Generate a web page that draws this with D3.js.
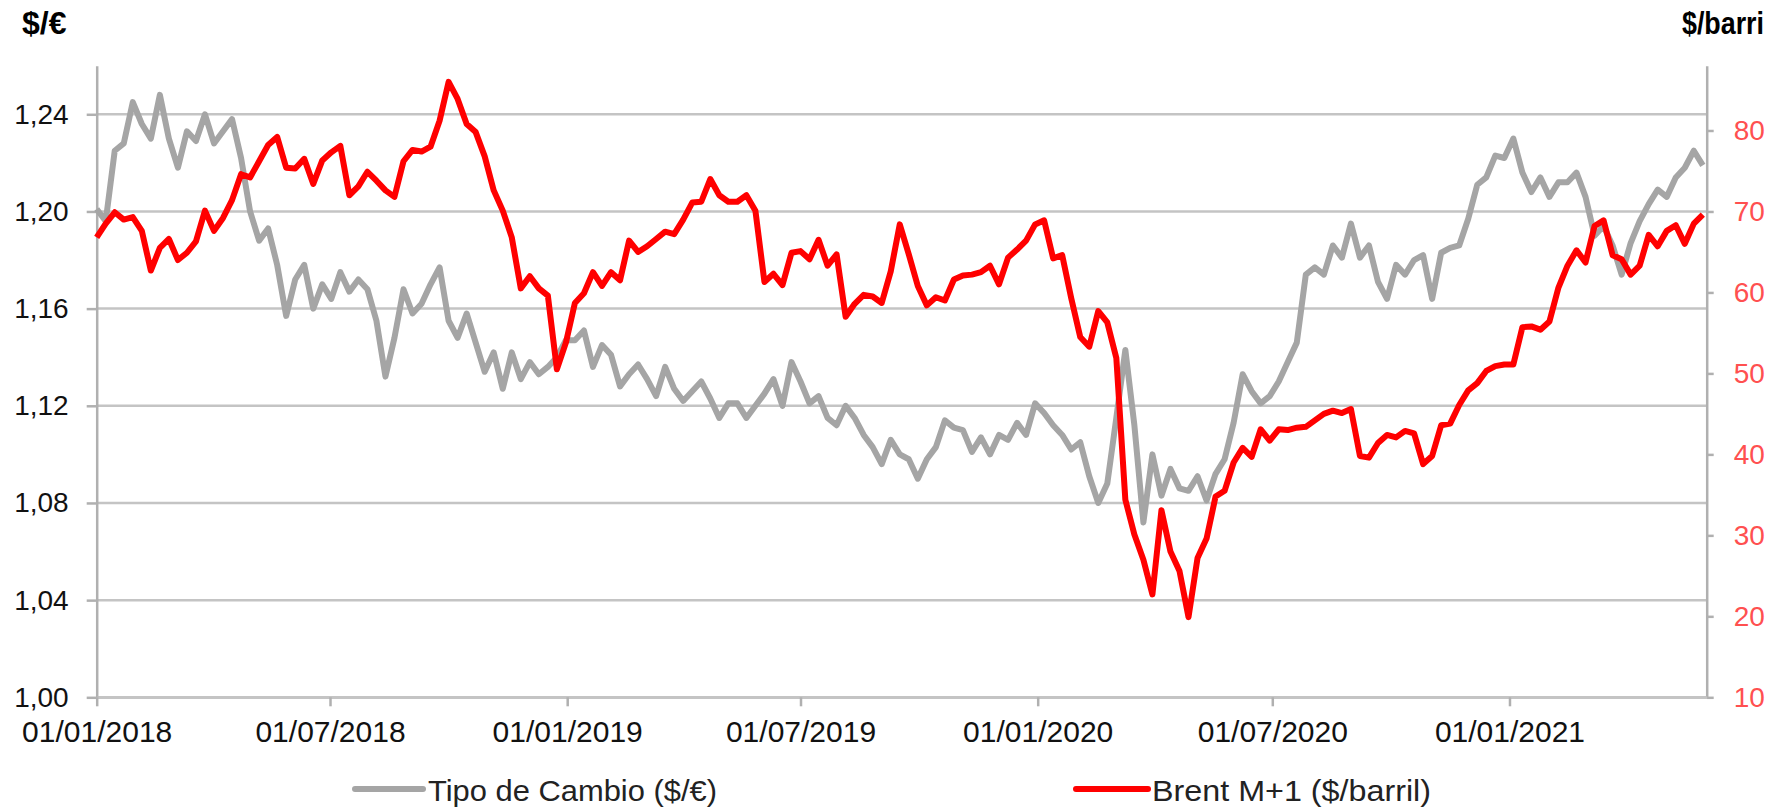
<!DOCTYPE html>
<html>
<head>
<meta charset="utf-8">
<script src="https://cdn.jsdelivr.net/npm/d3@7"></script>
<style>
  body { margin: 0; background: #fff; }
  text { font-family: "Liberation Sans", Arial, sans-serif; }
</style>
</head>
<body>
<div id="chart"></div>
<script>
// Weekly values (Mondays)
const eur2018 = [1.201, 1.196, 1.225, 1.228, 1.245, 1.236, 1.230, 1.248, 1.230, 1.218,
  1.233, 1.229, 1.240, 1.228, 1.233, 1.238, 1.222, 1.200, 1.188, 1.193,
  1.178, 1.157, 1.172, 1.178, 1.160, 1.170, 1.164, 1.175, 1.167, 1.172,
  1.168, 1.155, 1.132, 1.148, 1.168, 1.158, 1.162, 1.170, 1.177, 1.155,
  1.148, 1.158, 1.146, 1.134, 1.142, 1.127, 1.142, 1.131, 1.138, 1.133,
  1.136, 1.140, 1.147];
const eur2019 = [1.147, 1.151, 1.136, 1.145, 1.141, 1.128, 1.133, 1.137,
  1.131, 1.124, 1.136, 1.127, 1.122, 1.126, 1.130, 1.123, 1.115,
  1.121, 1.121, 1.115, 1.120, 1.125, 1.131, 1.120, 1.138,
  1.130, 1.121, 1.124, 1.115, 1.112, 1.120, 1.115, 1.108, 1.103,
  1.096, 1.106, 1.100, 1.098, 1.090, 1.098, 1.103, 1.114, 1.111,
  1.110, 1.101, 1.107, 1.100, 1.108, 1.106, 1.113, 1.108, 1.121];
const eur2020 = [1.117, 1.112, 1.108, 1.102, 1.105, 1.091, 1.080, 1.088,
  1.115, 1.143, 1.112, 1.072, 1.100, 1.083, 1.094, 1.086, 1.085,
  1.091, 1.081, 1.092, 1.098, 1.113, 1.133, 1.126, 1.121, 1.124,
  1.130, 1.138, 1.146, 1.174, 1.177, 1.174, 1.186, 1.181, 1.195,
  1.181, 1.186, 1.171, 1.164, 1.178, 1.174, 1.180, 1.182,
  1.164, 1.183, 1.185, 1.186, 1.197, 1.211, 1.214, 1.223, 1.222];
const eur2021 = [1.230, 1.216, 1.208, 1.214, 1.206, 1.212, 1.212, 1.216,
  1.206, 1.190, 1.194, 1.186, 1.174, 1.187, 1.196, 1.203, 1.209,
  1.206, 1.214, 1.218, 1.225, 1.219];

const brent2018 = [66.8, 68.5, 69.9, 69.0, 69.3, 67.6, 62.7, 65.5, 66.6,
  64.0, 64.9, 66.3, 70.1, 67.6, 69.2, 71.4, 74.6, 74.2,
  76.2, 78.2, 79.2, 75.4, 75.3, 76.5, 73.4, 76.3,
  77.3, 78.1, 72.0, 73.1, 74.9, 73.8, 72.6, 71.8, 76.2,
  77.6, 77.4, 78.0, 81.2, 86.0, 83.9, 80.8, 79.8, 76.8,
  72.6, 70.1, 66.8, 60.5, 62.0, 60.5, 59.6, 50.5, 53.8];
const brent2019 = [58.7, 59.9, 62.5, 60.8, 62.5, 61.5, 66.4, 65.0,
  65.7, 66.6, 67.5, 67.2, 69.0, 71.1, 71.2, 74.0, 72.0,
  71.2, 71.2, 72.0, 70.1, 61.3, 62.3, 60.9, 64.9,
  65.1, 64.1, 66.5, 63.3, 64.7, 57.0, 58.6, 59.7, 59.5,
  58.7, 62.6, 68.4, 64.7, 60.8, 58.4, 59.4, 59.0, 61.6,
  62.1, 62.2, 62.5, 63.3, 61.0, 64.3, 65.3, 66.4, 68.4];
const brent2020 = [68.9, 64.2, 64.6, 59.3, 54.5, 53.3, 57.7, 56.3,
  51.9, 34.4, 30.1, 27.0, 22.7, 33.1, 28.0, 25.6, 19.9,
  27.2, 29.6, 34.8, 35.5, 39.0, 40.8, 39.7, 43.1, 41.7,
  43.1, 43.0, 43.3, 43.4, 44.2, 45.0, 45.4, 45.1, 45.6,
  39.8, 39.6, 41.4, 42.4, 42.1, 42.9, 42.6, 38.8,
  39.8, 43.6, 43.8, 46.1, 47.9, 48.8, 50.3, 50.9, 51.1];
const brent2021 = [51.1, 55.7, 55.8, 55.4, 56.4, 60.6, 63.3, 65.2,
  63.7, 68.2, 68.9, 64.6, 64.1, 62.2, 63.3, 67.1, 65.7,
  67.6, 68.3, 66.0, 68.5, 69.6];

const leftTicks = [1.00, 1.04, 1.08, 1.12, 1.16, 1.20, 1.24];
const rightTicks = [10, 20, 30, 40, 50, 60, 70, 80];
const dateTicks = ["2018-01-01", "2018-07-01", "2019-01-01", "2019-07-01",
  "2020-01-01", "2020-07-01", "2021-01-01"];
const seriesNames = ["Tipo de Cambio ($/€)", "Brent M+1 ($/barril)"];

const width = 1785;
const height = 807;
const margin = { top: 65.7, right: 78.3, bottom: 109.7, left: 96.7 };
const axisColor = "#b0b0b0";
const gridColor = "#c4c4c4";
const greyLine = "#a5a5a5";
const redLine = "#ff0000";

const weeks = d3.timeMonday.range(new Date(2018, 0, 1), new Date(2021, 5, 1));
const eurUsd = eur2018.concat(eur2019, eur2020, eur2021);
const brent = brent2018.concat(brent2019, brent2020, brent2021);
const parseDate = d3.timeParse("%Y-%m-%d");

const svg = d3.select("#chart")
    .append("svg")
    .attr("width", width)
    .attr("height", height);

const x = d3.scaleTime()
    .domain([new Date(2018, 0, 1), new Date(2021, 5, 3)])
    .range([margin.left, width - margin.right]);

const yLeft = d3.scaleLinear()
    .domain([1.00, 1.26])
    .range([height - margin.bottom, margin.top]);

const yRight = d3.scaleLinear()
    .domain([10, 88])
    .range([height - margin.bottom, margin.top]);

// Gridlines
svg.append("g")
    .selectAll("line")
    .data(leftTicks)
    .enter()
    .append("line")
    .attr("x1", margin.left)
    .attr("x2", width - margin.right)
    .attr("y1", d => yLeft(d))
    .attr("y2", d => yLeft(d))
    .attr("stroke", gridColor)
    .attr("stroke-width", 2.5);

// Axes
const commaFmt = d => d3.format(".2f")(d).replace(".", ",");

const leftAxis = svg.append("g")
    .attr("transform", `translate(${margin.left},0)`)
    .call(d3.axisLeft(yLeft).tickValues(leftTicks).tickFormat(commaFmt)
        .tickSize(10).tickSizeOuter(0).tickPadding(18));

const rightAxis = svg.append("g")
    .attr("transform", `translate(${width - margin.right},0)`)
    .call(d3.axisRight(yRight).tickValues(rightTicks)
        .tickSize(7).tickSizeOuter(0).tickPadding(20));

const bottomAxis = svg.append("g")
    .attr("transform", `translate(0,${height - margin.bottom})`)
    .call(d3.axisBottom(x).tickValues(dateTicks.map(parseDate))
        .tickFormat(d3.timeFormat("%d/%m/%Y"))
        .tickSize(9).tickSizeOuter(0).tickPadding(14));

[leftAxis, rightAxis, bottomAxis].forEach(g => {
    g.select(".domain").attr("stroke", axisColor).attr("stroke-width", 2.5);
    g.selectAll(".tick line").attr("stroke", axisColor).attr("stroke-width", 2.5);
    g.selectAll("text").attr("font-family", "Liberation Sans, Arial, sans-serif");
});
bottomAxis.select(".domain").attr("stroke", gridColor);

leftAxis.selectAll("text").attr("font-size", 28).attr("fill", "#111");
rightAxis.selectAll("text").attr("font-size", 28).attr("fill", "#ff5050");
bottomAxis.selectAll("text").attr("font-size", 30).attr("fill", "#111");

// Lines
const eurLine = d3.line()
    .x((d, i) => x(weeks[i]))
    .y(d => yLeft(d));

const brentLine = d3.line()
    .x((d, i) => x(weeks[i]))
    .y(d => yRight(d));

svg.append("path")
    .datum(eurUsd)
    .attr("fill", "none")
    .attr("stroke", greyLine)
    .attr("stroke-width", 6)
    .attr("stroke-linejoin", "round")
    .attr("d", eurLine);

svg.append("path")
    .datum(brent)
    .attr("fill", "none")
    .attr("stroke", redLine)
    .attr("stroke-width", 6)
    .attr("stroke-linejoin", "round")
    .attr("d", brentLine);

// Axis titles
svg.append("text")
    .attr("x", 22)
    .attr("y", 34)
    .attr("font-size", 32)
    .attr("font-weight", "bold")
    .text("$/€");

svg.append("text")
    .attr("x", 1764)
    .attr("y", 34)
    .attr("text-anchor", "end")
    .attr("font-size", 31)
    .attr("font-weight", "bold")
    .attr("textLength", 82)
    .attr("lengthAdjust", "spacingAndGlyphs")
    .text("$/barri");

// Legend
const legend = svg.append("g");
const legendItems = [
    { name: seriesNames[0], color: greyLine, x1: 355, x2: 423, tx: 428, len: 289 },
    { name: seriesNames[1], color: redLine, x1: 1076, x2: 1148, tx: 1152, len: 279 }
];
legend.selectAll("line")
    .data(legendItems)
    .enter()
    .append("line")
    .attr("x1", d => d.x1)
    .attr("x2", d => d.x2)
    .attr("y1", 789)
    .attr("y2", 789)
    .attr("stroke", d => d.color)
    .attr("stroke-width", 6)
    .attr("stroke-linecap", "round");

legend.selectAll("text")
    .data(legendItems)
    .enter()
    .append("text")
    .attr("x", d => d.tx)
    .attr("y", 801)
    .attr("font-size", 30)
    .attr("fill", "#222")
    .attr("textLength", d => d.len)
    .attr("lengthAdjust", "spacingAndGlyphs")
    .text(d => d.name);
</script>
</body>
</html>
